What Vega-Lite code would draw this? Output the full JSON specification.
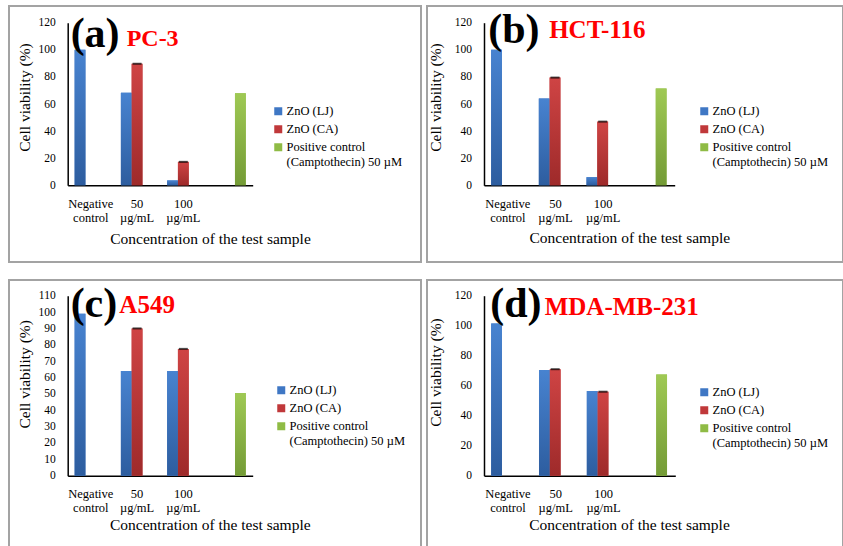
{
  "$schema": "https://vega.github.io/schema/vega-lite/v6.json",
  "padding": {"left": 8, "top": 5, "right": 0, "bottom": 0},
  "config": {
    "view": {"stroke": "#a3a3a3", "strokeWidth": 2},
    "font": "Liberation Serif",
    "axis": {"grid": false, "ticks": false, "tickSize": 0, "domainColor": "#000000", "domainWidth": 1.5, "labelFont": "Liberation Serif", "labelColor": "#000000", "labelOverlap": false, "titleFont": "Liberation Serif", "titleColor": "#000000", "titleFontWeight": "normal", "titleFontSize": 15.5},
    "axisY": {"labelOverlap": false, "labelFontSize": 11.5, "labelPadding": 12.5},
    "legend": {"labelFont": "Liberation Serif", "labelColor": "#000000", "labelFontSize": 12.5, "orient": "none", "title": null, "padding": 0, "symbolType": "square", "symbolSize": 64, "symbolStrokeWidth": 0, "rowPadding": 5, "labelOffset": 2, "labelLimit": 300}
  },
  "resolve": {"scale": {"color": "independent"}, "legend": {"color": "independent"}},
  "datasets": {
    "bars": [
      {"panel": "a", "conc": "Negative control", "series": "ZnO (LJ)", "value": 100},
      {"panel": "a", "conc": "50 µg/mL", "series": "ZnO (LJ)", "value": 68.3},
      {"panel": "a", "conc": "50 µg/mL", "series": "ZnO (CA)", "value": 89.7},
      {"panel": "a", "conc": "100 µg/mL", "series": "ZnO (LJ)", "value": 3.6},
      {"panel": "a", "conc": "100 µg/mL", "series": "ZnO (CA)", "value": 17.3},
      {"panel": "a", "conc": "Positive control", "series": "Positive control (Camptothecin) 50 µM", "value": 68},
      {"panel": "b", "conc": "Negative control", "series": "ZnO (LJ)", "value": 100},
      {"panel": "b", "conc": "50 µg/mL", "series": "ZnO (LJ)", "value": 64},
      {"panel": "b", "conc": "50 µg/mL", "series": "ZnO (CA)", "value": 79.5},
      {"panel": "b", "conc": "100 µg/mL", "series": "ZnO (LJ)", "value": 6},
      {"panel": "b", "conc": "100 µg/mL", "series": "ZnO (CA)", "value": 47},
      {"panel": "b", "conc": "Positive control", "series": "Positive control (Camptothecin) 50 µM", "value": 71.5},
      {"panel": "c", "conc": "Negative control", "series": "ZnO (LJ)", "value": 99},
      {"panel": "c", "conc": "50 µg/mL", "series": "ZnO (LJ)", "value": 64},
      {"panel": "c", "conc": "50 µg/mL", "series": "ZnO (CA)", "value": 90},
      {"panel": "c", "conc": "100 µg/mL", "series": "ZnO (LJ)", "value": 64},
      {"panel": "c", "conc": "100 µg/mL", "series": "ZnO (CA)", "value": 77.5},
      {"panel": "c", "conc": "Positive control", "series": "Positive control (Camptothecin) 50 µM", "value": 50.5},
      {"panel": "d", "conc": "Negative control", "series": "ZnO (LJ)", "value": 101.5},
      {"panel": "d", "conc": "50 µg/mL", "series": "ZnO (LJ)", "value": 70.5},
      {"panel": "d", "conc": "50 µg/mL", "series": "ZnO (CA)", "value": 71},
      {"panel": "d", "conc": "100 µg/mL", "series": "ZnO (LJ)", "value": 56.5},
      {"panel": "d", "conc": "100 µg/mL", "series": "ZnO (CA)", "value": 56},
      {"panel": "d", "conc": "Positive control", "series": "Positive control (Camptothecin) 50 µM", "value": 67.5}
    ],
    "tags": [
      {"panel": "a", "tag": "(a)", "name": "PC-3"},
      {"panel": "b", "tag": "(b)", "name": "HCT-116"},
      {"panel": "c", "tag": "(c)", "name": "A549"},
      {"panel": "d", "tag": "(d)", "name": "MDA-MB-231"}
    ]
  },
  "vconcat": [
    {"resolve": {"scale": {"color": "independent"}, "legend": {"color": "independent"}},
     "hconcat": [
      {
        "width": 412, "height": 256,
        "layer": [
          {"data": {"name": "bars"}, "transform": [{"filter": "datum.panel === 'a'"}],
           "mark": {"type": "bar"},
           "encoding": {
             "x": {"field": "conc", "type": "nominal", "sort": ["Negative control", "50 µg/mL", "100 µg/mL", "Positive control"],
                   "scale": {"domain": ["Negative control", "50 µg/mL", "100 µg/mL", "Positive control"], "range": [58.7, 243.7], "paddingInner": 0.3, "paddingOuter": 0.15},
                   "axis": {"title": "Concentration of the test sample", "orient": "bottom", "offset": -76.7, "labelAngle": 0, "labelPadding": 12, "labelBaseline": "top", "labelLineHeight": 14, "labelFontSize": 12.5, "labelExpr": "datum.value === 'Negative control' ? ['Negative', 'control'] : datum.value === '50 µg/mL' ? ['50', 'µg/mL'] : datum.value === '100 µg/mL' ? ['100', 'µg/mL'] : ''", "titleX": 201, "titleY": 57.7, "titleAlign": "center", "titleBaseline": "alphabetic"}},
             "xOffset": {"field": "series", "type": "nominal", "scale": {"domain": ["ZnO (LJ)", "ZnO (CA)", "Positive control (Camptothecin) 50 µM"], "paddingInner": 0, "paddingOuter": 0}},
             "y": {"field": "value", "type": "quantitative", "scale": {"domain": [0, 120], "range": [179.3, 16.7], "nice": false},
                   "axis": {"title": "Cell viability (%)", "orient": "left", "offset": -58.7, "values": [0, 20, 40, 60, 80, 100, 120], "titleX": -34.7, "titleY": 91, "titleAlign": "center", "titleBaseline": "bottom"}},
             "color": {"field": "series", "type": "nominal", "scale": {"domain": ["ZnO (LJ)", "ZnO (CA)", "Positive control (Camptothecin) 50 µM"], "range": ["#3f77c4", "#c0383a", "#8fbb45"]},
                       "legend": {"orient": "none", "legendX": 263, "legendY": 99, "labelExpr": "datum.label === 'Positive control (Camptothecin) 50 µM' ? ['Positive control', '(Camptothecin) 50 µM'] : datum.label"}}
           }},
          {"data": {"name": "bars"}, "transform": [{"filter": "datum.panel === 'a' && datum.series === 'ZnO (LJ)'"}],
           "mark": {"type": "bar", "color": {"gradient": "linear", "x1": 0, "y1": 0, "x2": 0, "y2": 1, "stops": [{"offset": 0, "color": "#4883d0"}, {"offset": 1, "color": "#2d5d9f"}]}},
           "encoding": {"x": {"field": "conc", "type": "nominal"}, "xOffset": {"field": "series", "type": "nominal"}, "y": {"field": "value", "type": "quantitative", "axis": {"title": "Cell viability (%)", "orient": "left", "offset": -58.7, "values": [0, 20, 40, 60, 80, 100, 120], "titleX": -34.7, "titleY": 91, "titleAlign": "center", "titleBaseline": "bottom"}}}},
          {"data": {"name": "bars"}, "transform": [{"filter": "datum.panel === 'a' && datum.series === 'ZnO (CA)'"}],
           "mark": {"type": "bar", "color": {"gradient": "linear", "x1": 0, "y1": 0, "x2": 0, "y2": 1, "stops": [{"offset": 0, "color": "#cf4444"}, {"offset": 1, "color": "#9e2a2a"}]}},
           "encoding": {"x": {"field": "conc", "type": "nominal"}, "xOffset": {"field": "series", "type": "nominal"}, "y": {"field": "value", "type": "quantitative", "axis": {"title": "Cell viability (%)", "orient": "left", "offset": -58.7, "values": [0, 20, 40, 60, 80, 100, 120], "titleX": -34.7, "titleY": 91, "titleAlign": "center", "titleBaseline": "bottom"}}}},
          {"data": {"name": "bars"}, "transform": [{"filter": "datum.panel === 'a' && datum.series === 'Positive control (Camptothecin) 50 µM'"}],
           "mark": {"type": "bar", "color": {"gradient": "linear", "x1": 0, "y1": 0, "x2": 0, "y2": 1, "stops": [{"offset": 0, "color": "#9fc954"}, {"offset": 1, "color": "#749b36"}]}},
           "encoding": {"x": {"field": "conc", "type": "nominal"}, "xOffset": {"field": "series", "type": "nominal"}, "y": {"field": "value", "type": "quantitative", "axis": {"title": "Cell viability (%)", "orient": "left", "offset": -58.7, "values": [0, 20, 40, 60, 80, 100, 120], "titleX": -34.7, "titleY": 91, "titleAlign": "center", "titleBaseline": "bottom"}}}},
          {"data": {"name": "bars"}, "transform": [{"filter": "datum.panel === 'a' && datum.series === 'ZnO (CA)'"}],
           "mark": {"type": "tick", "color": "#000000", "thickness": 2, "size": 9},
           "encoding": {"x": {"field": "conc", "type": "nominal"}, "xOffset": {"field": "series", "type": "nominal"}, "y": {"field": "value", "type": "quantitative", "axis": {"title": "Cell viability (%)", "orient": "left", "offset": -58.7, "values": [0, 20, 40, 60, 80, 100, 120], "titleX": -34.7, "titleY": 91, "titleAlign": "center", "titleBaseline": "bottom"}}}},
          {"data": {"name": "tags"}, "transform": [{"filter": "datum.panel === 'a'"}],
           "mark": {"type": "text", "font": "Liberation Serif", "fontWeight": "bold", "fontSize": 42, "align": "left", "baseline": "alphabetic", "dx": -4, "color": "#000000"},
           "encoding": {"x": {"datum": "Negative control", "bandPosition": 0}, "y": {"datum": 102.3, "type": "quantitative", "axis": {"title": "Cell viability (%)", "orient": "left", "offset": -58.7, "values": [0, 20, 40, 60, 80, 100, 120], "titleX": -34.7, "titleY": 91, "titleAlign": "center", "titleBaseline": "bottom"}}, "text": {"field": "tag"}}},
          {"data": {"name": "tags"}, "transform": [{"filter": "datum.panel === 'a'"}],
           "mark": {"type": "text", "font": "Liberation Serif", "fontWeight": "bold", "fontSize": 24, "align": "left", "baseline": "alphabetic", "dx": 52, "color": "#ff0000"},
           "encoding": {"x": {"datum": "Negative control", "bandPosition": 0}, "y": {"datum": 102.8, "type": "quantitative", "axis": {"title": "Cell viability (%)", "orient": "left", "offset": -58.7, "values": [0, 20, 40, 60, 80, 100, 120], "titleX": -34.7, "titleY": 91, "titleAlign": "center", "titleBaseline": "bottom"}}, "text": {"field": "name"}}}
        ]
      },
      {
        "width": 416, "height": 256,
        "layer": [
          {"data": {"name": "bars"}, "transform": [{"filter": "datum.panel === 'b'"}],
           "mark": {"type": "bar"},
           "encoding": {
             "x": {"field": "conc", "type": "nominal", "sort": ["Negative control", "50 µg/mL", "100 µg/mL", "Positive control"],
                   "scale": {"domain": ["Negative control", "50 µg/mL", "100 µg/mL", "Positive control"], "range": [57, 247.7], "paddingInner": 0.3, "paddingOuter": 0.15},
                   "axis": {"title": "Concentration of the test sample", "orient": "bottom", "offset": -76.7, "labelAngle": 0, "labelPadding": 12, "labelBaseline": "top", "labelLineHeight": 14, "labelFontSize": 12.5, "labelExpr": "datum.value === 'Negative control' ? ['Negative', 'control'] : datum.value === '50 µg/mL' ? ['50', 'µg/mL'] : datum.value === '100 µg/mL' ? ['100', 'µg/mL'] : ''", "titleX": 202.3, "titleY": 57.4, "titleAlign": "center", "titleBaseline": "alphabetic"}},
             "xOffset": {"field": "series", "type": "nominal", "scale": {"domain": ["ZnO (LJ)", "ZnO (CA)", "Positive control (Camptothecin) 50 µM"], "paddingInner": 0, "paddingOuter": 0}},
             "y": {"field": "value", "type": "quantitative", "scale": {"domain": [0, 120], "range": [179.3, 16.7], "nice": false},
                   "axis": {"title": "Cell viability (%)", "orient": "left", "offset": -57, "values": [0, 20, 40, 60, 80, 100, 120], "titleX": -41, "titleY": 91, "titleAlign": "center", "titleBaseline": "bottom"}},
             "color": {"field": "series", "type": "nominal", "scale": {"domain": ["ZnO (LJ)", "ZnO (CA)", "Positive control (Camptothecin) 50 µM"], "range": ["#3f77c4", "#c0383a", "#8fbb45"]},
                       "legend": {"orient": "none", "legendX": 271, "legendY": 99, "labelExpr": "datum.label === 'Positive control (Camptothecin) 50 µM' ? ['Positive control', '(Camptothecin) 50 µM'] : datum.label"}}
           }},
          {"data": {"name": "bars"}, "transform": [{"filter": "datum.panel === 'b' && datum.series === 'ZnO (LJ)'"}],
           "mark": {"type": "bar", "color": {"gradient": "linear", "x1": 0, "y1": 0, "x2": 0, "y2": 1, "stops": [{"offset": 0, "color": "#4883d0"}, {"offset": 1, "color": "#2d5d9f"}]}},
           "encoding": {"x": {"field": "conc", "type": "nominal"}, "xOffset": {"field": "series", "type": "nominal"}, "y": {"field": "value", "type": "quantitative", "axis": {"title": "Cell viability (%)", "orient": "left", "offset": -57, "values": [0, 20, 40, 60, 80, 100, 120], "titleX": -41, "titleY": 91, "titleAlign": "center", "titleBaseline": "bottom"}}}},
          {"data": {"name": "bars"}, "transform": [{"filter": "datum.panel === 'b' && datum.series === 'ZnO (CA)'"}],
           "mark": {"type": "bar", "color": {"gradient": "linear", "x1": 0, "y1": 0, "x2": 0, "y2": 1, "stops": [{"offset": 0, "color": "#cf4444"}, {"offset": 1, "color": "#9e2a2a"}]}},
           "encoding": {"x": {"field": "conc", "type": "nominal"}, "xOffset": {"field": "series", "type": "nominal"}, "y": {"field": "value", "type": "quantitative", "axis": {"title": "Cell viability (%)", "orient": "left", "offset": -57, "values": [0, 20, 40, 60, 80, 100, 120], "titleX": -41, "titleY": 91, "titleAlign": "center", "titleBaseline": "bottom"}}}},
          {"data": {"name": "bars"}, "transform": [{"filter": "datum.panel === 'b' && datum.series === 'Positive control (Camptothecin) 50 µM'"}],
           "mark": {"type": "bar", "color": {"gradient": "linear", "x1": 0, "y1": 0, "x2": 0, "y2": 1, "stops": [{"offset": 0, "color": "#9fc954"}, {"offset": 1, "color": "#749b36"}]}},
           "encoding": {"x": {"field": "conc", "type": "nominal"}, "xOffset": {"field": "series", "type": "nominal"}, "y": {"field": "value", "type": "quantitative", "axis": {"title": "Cell viability (%)", "orient": "left", "offset": -57, "values": [0, 20, 40, 60, 80, 100, 120], "titleX": -41, "titleY": 91, "titleAlign": "center", "titleBaseline": "bottom"}}}},
          {"data": {"name": "bars"}, "transform": [{"filter": "datum.panel === 'b' && datum.series === 'ZnO (CA)'"}],
           "mark": {"type": "tick", "color": "#000000", "thickness": 2, "size": 9},
           "encoding": {"x": {"field": "conc", "type": "nominal"}, "xOffset": {"field": "series", "type": "nominal"}, "y": {"field": "value", "type": "quantitative", "axis": {"title": "Cell viability (%)", "orient": "left", "offset": -57, "values": [0, 20, 40, 60, 80, 100, 120], "titleX": -41, "titleY": 91, "titleAlign": "center", "titleBaseline": "bottom"}}}},
          {"data": {"name": "tags"}, "transform": [{"filter": "datum.panel === 'b'"}],
           "mark": {"type": "text", "font": "Liberation Serif", "fontWeight": "bold", "fontSize": 42, "align": "left", "baseline": "alphabetic", "dx": -3, "color": "#000000"},
           "encoding": {"x": {"datum": "Negative control", "bandPosition": 0}, "y": {"datum": 104.7, "type": "quantitative", "axis": {"title": "Cell viability (%)", "orient": "left", "offset": -57, "values": [0, 20, 40, 60, 80, 100, 120], "titleX": -41, "titleY": 91, "titleAlign": "center", "titleBaseline": "bottom"}}, "text": {"field": "tag"}}},
          {"data": {"name": "tags"}, "transform": [{"filter": "datum.panel === 'b'"}],
           "mark": {"type": "text", "font": "Liberation Serif", "fontWeight": "bold", "fontSize": 25, "align": "left", "baseline": "alphabetic", "dx": 58, "color": "#ff0000"},
           "encoding": {"x": {"datum": "Negative control", "bandPosition": 0}, "y": {"datum": 108.9, "type": "quantitative", "axis": {"title": "Cell viability (%)", "orient": "left", "offset": -57, "values": [0, 20, 40, 60, 80, 100, 120], "titleX": -41, "titleY": 91, "titleAlign": "center", "titleBaseline": "bottom"}}, "text": {"field": "name"}}}
        ]
      }
    ], "spacing": 4},
    {"resolve": {"scale": {"color": "independent"}, "legend": {"color": "independent"}},
     "hconcat": [
      {
        "width": 412, "height": 285,
        "layer": [
          {"data": {"name": "bars"}, "transform": [{"filter": "datum.panel === 'c'"}],
           "mark": {"type": "bar"},
           "encoding": {
             "x": {"field": "conc", "type": "nominal", "sort": ["Negative control", "50 µg/mL", "100 µg/mL", "Positive control"],
                   "scale": {"domain": ["Negative control", "50 µg/mL", "100 µg/mL", "Positive control"], "range": [58.7, 243.7], "paddingInner": 0.3, "paddingOuter": 0.15},
                   "axis": {"title": "Concentration of the test sample", "orient": "bottom", "offset": -89.3, "labelAngle": 0, "labelPadding": 12, "labelBaseline": "top", "labelLineHeight": 14, "labelFontSize": 12.5, "labelExpr": "datum.value === 'Negative control' ? ['Negative', 'control'] : datum.value === '50 µg/mL' ? ['50', 'µg/mL'] : datum.value === '100 µg/mL' ? ['100', 'µg/mL'] : ''", "titleX": 200.8, "titleY": 54, "titleAlign": "center", "titleBaseline": "alphabetic"}},
             "xOffset": {"field": "series", "type": "nominal", "scale": {"domain": ["ZnO (LJ)", "ZnO (CA)", "Positive control (Camptothecin) 50 µM"], "paddingInner": 0, "paddingOuter": 0}},
             "y": {"field": "value", "type": "quantitative", "scale": {"domain": [0, 110], "range": [195.7, 15.7], "nice": false},
                   "axis": {"title": "Cell viability (%)", "orient": "left", "offset": -58.7, "values": [0, 10, 20, 30, 40, 50, 60, 70, 80, 90, 100, 110], "titleX": -34.7, "titleY": 93.8, "titleAlign": "center", "titleBaseline": "bottom"}},
             "color": {"field": "series", "type": "nominal", "scale": {"domain": ["ZnO (LJ)", "ZnO (CA)", "Positive control (Camptothecin) 50 µM"], "range": ["#3f77c4", "#c0383a", "#8fbb45"]},
                       "legend": {"orient": "none", "legendX": 266, "legendY": 104, "labelExpr": "datum.label === 'Positive control (Camptothecin) 50 µM' ? ['Positive control', '(Camptothecin) 50 µM'] : datum.label"}}
           }},
          {"data": {"name": "bars"}, "transform": [{"filter": "datum.panel === 'c' && datum.series === 'ZnO (LJ)'"}],
           "mark": {"type": "bar", "color": {"gradient": "linear", "x1": 0, "y1": 0, "x2": 0, "y2": 1, "stops": [{"offset": 0, "color": "#4883d0"}, {"offset": 1, "color": "#2d5d9f"}]}},
           "encoding": {"x": {"field": "conc", "type": "nominal"}, "xOffset": {"field": "series", "type": "nominal"}, "y": {"field": "value", "type": "quantitative", "axis": {"title": "Cell viability (%)", "orient": "left", "offset": -58.7, "values": [0, 10, 20, 30, 40, 50, 60, 70, 80, 90, 100, 110], "titleX": -34.7, "titleY": 93.8, "titleAlign": "center", "titleBaseline": "bottom"}}}},
          {"data": {"name": "bars"}, "transform": [{"filter": "datum.panel === 'c' && datum.series === 'ZnO (CA)'"}],
           "mark": {"type": "bar", "color": {"gradient": "linear", "x1": 0, "y1": 0, "x2": 0, "y2": 1, "stops": [{"offset": 0, "color": "#cf4444"}, {"offset": 1, "color": "#9e2a2a"}]}},
           "encoding": {"x": {"field": "conc", "type": "nominal"}, "xOffset": {"field": "series", "type": "nominal"}, "y": {"field": "value", "type": "quantitative", "axis": {"title": "Cell viability (%)", "orient": "left", "offset": -58.7, "values": [0, 10, 20, 30, 40, 50, 60, 70, 80, 90, 100, 110], "titleX": -34.7, "titleY": 93.8, "titleAlign": "center", "titleBaseline": "bottom"}}}},
          {"data": {"name": "bars"}, "transform": [{"filter": "datum.panel === 'c' && datum.series === 'Positive control (Camptothecin) 50 µM'"}],
           "mark": {"type": "bar", "color": {"gradient": "linear", "x1": 0, "y1": 0, "x2": 0, "y2": 1, "stops": [{"offset": 0, "color": "#9fc954"}, {"offset": 1, "color": "#749b36"}]}},
           "encoding": {"x": {"field": "conc", "type": "nominal"}, "xOffset": {"field": "series", "type": "nominal"}, "y": {"field": "value", "type": "quantitative", "axis": {"title": "Cell viability (%)", "orient": "left", "offset": -58.7, "values": [0, 10, 20, 30, 40, 50, 60, 70, 80, 90, 100, 110], "titleX": -34.7, "titleY": 93.8, "titleAlign": "center", "titleBaseline": "bottom"}}}},
          {"data": {"name": "bars"}, "transform": [{"filter": "datum.panel === 'c' && datum.series === 'ZnO (CA)'"}],
           "mark": {"type": "tick", "color": "#000000", "thickness": 2, "size": 9},
           "encoding": {"x": {"field": "conc", "type": "nominal"}, "xOffset": {"field": "series", "type": "nominal"}, "y": {"field": "value", "type": "quantitative", "axis": {"title": "Cell viability (%)", "orient": "left", "offset": -58.7, "values": [0, 10, 20, 30, 40, 50, 60, 70, 80, 90, 100, 110], "titleX": -34.7, "titleY": 93.8, "titleAlign": "center", "titleBaseline": "bottom"}}}},
          {"data": {"name": "tags"}, "transform": [{"filter": "datum.panel === 'c'"}],
           "mark": {"type": "text", "font": "Liberation Serif", "fontWeight": "bold", "fontSize": 42, "align": "left", "baseline": "alphabetic", "dx": -4, "color": "#000000"},
           "encoding": {"x": {"datum": "Negative control", "bandPosition": 0}, "y": {"datum": 97, "type": "quantitative", "axis": {"title": "Cell viability (%)", "orient": "left", "offset": -58.7, "values": [0, 10, 20, 30, 40, 50, 60, 70, 80, 90, 100, 110], "titleX": -34.7, "titleY": 93.8, "titleAlign": "center", "titleBaseline": "bottom"}}, "text": {"field": "tag"}}},
          {"data": {"name": "tags"}, "transform": [{"filter": "datum.panel === 'c'"}],
           "mark": {"type": "text", "font": "Liberation Serif", "fontWeight": "bold", "fontSize": 25, "align": "left", "baseline": "alphabetic", "dx": 44.7, "color": "#ff0000"},
           "encoding": {"x": {"datum": "Negative control", "bandPosition": 0}, "y": {"datum": 99.4, "type": "quantitative", "axis": {"title": "Cell viability (%)", "orient": "left", "offset": -58.7, "values": [0, 10, 20, 30, 40, 50, 60, 70, 80, 90, 100, 110], "titleX": -34.7, "titleY": 93.8, "titleAlign": "center", "titleBaseline": "bottom"}}, "text": {"field": "name"}}}
        ]
      },
      {
        "width": 416, "height": 285,
        "layer": [
          {"data": {"name": "bars"}, "transform": [{"filter": "datum.panel === 'd'"}],
           "mark": {"type": "bar"},
           "encoding": {
             "x": {"field": "conc", "type": "nominal", "sort": ["Negative control", "50 µg/mL", "100 µg/mL", "Positive control"],
                   "scale": {"domain": ["Negative control", "50 µg/mL", "100 µg/mL", "Positive control"], "range": [57, 248.3], "paddingInner": 0.3, "paddingOuter": 0.15},
                   "axis": {"title": "Concentration of the test sample", "orient": "bottom", "offset": -89.3, "labelAngle": 0, "labelPadding": 12, "labelBaseline": "top", "labelLineHeight": 14, "labelFontSize": 12.5, "labelExpr": "datum.value === 'Negative control' ? ['Negative', 'control'] : datum.value === '50 µg/mL' ? ['50', 'µg/mL'] : datum.value === '100 µg/mL' ? ['100', 'µg/mL'] : ''", "titleX": 202, "titleY": 54, "titleAlign": "center", "titleBaseline": "alphabetic"}},
             "xOffset": {"field": "series", "type": "nominal", "scale": {"domain": ["ZnO (LJ)", "ZnO (CA)", "Positive control (Camptothecin) 50 µM"], "paddingInner": 0, "paddingOuter": 0}},
             "y": {"field": "value", "type": "quantitative", "scale": {"domain": [0, 120], "range": [195.7, 15.7], "nice": false},
                   "axis": {"title": "Cell viability (%)", "orient": "left", "offset": -57, "values": [0, 20, 40, 60, 80, 100, 120], "titleX": -41, "titleY": 92, "titleAlign": "center", "titleBaseline": "bottom"}},
             "color": {"field": "series", "type": "nominal", "scale": {"domain": ["ZnO (LJ)", "ZnO (CA)", "Positive control (Camptothecin) 50 µM"], "range": ["#3f77c4", "#c0383a", "#8fbb45"]},
                       "legend": {"orient": "none", "legendX": 271, "legendY": 106, "labelExpr": "datum.label === 'Positive control (Camptothecin) 50 µM' ? ['Positive control', '(Camptothecin) 50 µM'] : datum.label"}}
           }},
          {"data": {"name": "bars"}, "transform": [{"filter": "datum.panel === 'd' && datum.series === 'ZnO (LJ)'"}],
           "mark": {"type": "bar", "color": {"gradient": "linear", "x1": 0, "y1": 0, "x2": 0, "y2": 1, "stops": [{"offset": 0, "color": "#4883d0"}, {"offset": 1, "color": "#2d5d9f"}]}},
           "encoding": {"x": {"field": "conc", "type": "nominal"}, "xOffset": {"field": "series", "type": "nominal"}, "y": {"field": "value", "type": "quantitative", "axis": {"title": "Cell viability (%)", "orient": "left", "offset": -57, "values": [0, 20, 40, 60, 80, 100, 120], "titleX": -41, "titleY": 92, "titleAlign": "center", "titleBaseline": "bottom"}}}},
          {"data": {"name": "bars"}, "transform": [{"filter": "datum.panel === 'd' && datum.series === 'ZnO (CA)'"}],
           "mark": {"type": "bar", "color": {"gradient": "linear", "x1": 0, "y1": 0, "x2": 0, "y2": 1, "stops": [{"offset": 0, "color": "#cf4444"}, {"offset": 1, "color": "#9e2a2a"}]}},
           "encoding": {"x": {"field": "conc", "type": "nominal"}, "xOffset": {"field": "series", "type": "nominal"}, "y": {"field": "value", "type": "quantitative", "axis": {"title": "Cell viability (%)", "orient": "left", "offset": -57, "values": [0, 20, 40, 60, 80, 100, 120], "titleX": -41, "titleY": 92, "titleAlign": "center", "titleBaseline": "bottom"}}}},
          {"data": {"name": "bars"}, "transform": [{"filter": "datum.panel === 'd' && datum.series === 'Positive control (Camptothecin) 50 µM'"}],
           "mark": {"type": "bar", "color": {"gradient": "linear", "x1": 0, "y1": 0, "x2": 0, "y2": 1, "stops": [{"offset": 0, "color": "#9fc954"}, {"offset": 1, "color": "#749b36"}]}},
           "encoding": {"x": {"field": "conc", "type": "nominal"}, "xOffset": {"field": "series", "type": "nominal"}, "y": {"field": "value", "type": "quantitative", "axis": {"title": "Cell viability (%)", "orient": "left", "offset": -57, "values": [0, 20, 40, 60, 80, 100, 120], "titleX": -41, "titleY": 92, "titleAlign": "center", "titleBaseline": "bottom"}}}},
          {"data": {"name": "bars"}, "transform": [{"filter": "datum.panel === 'd' && datum.series === 'ZnO (CA)'"}],
           "mark": {"type": "tick", "color": "#000000", "thickness": 2, "size": 9},
           "encoding": {"x": {"field": "conc", "type": "nominal"}, "xOffset": {"field": "series", "type": "nominal"}, "y": {"field": "value", "type": "quantitative", "axis": {"title": "Cell viability (%)", "orient": "left", "offset": -57, "values": [0, 20, 40, 60, 80, 100, 120], "titleX": -41, "titleY": 92, "titleAlign": "center", "titleBaseline": "bottom"}}}},
          {"data": {"name": "tags"}, "transform": [{"filter": "datum.panel === 'd'"}],
           "mark": {"type": "text", "font": "Liberation Serif", "fontWeight": "bold", "fontSize": 42, "align": "left", "baseline": "alphabetic", "dx": -1, "color": "#000000"},
           "encoding": {"x": {"datum": "Negative control", "bandPosition": 0}, "y": {"datum": 105.8, "type": "quantitative", "axis": {"title": "Cell viability (%)", "orient": "left", "offset": -57, "values": [0, 20, 40, 60, 80, 100, 120], "titleX": -41, "titleY": 92, "titleAlign": "center", "titleBaseline": "bottom"}}, "text": {"field": "tag"}}},
          {"data": {"name": "tags"}, "transform": [{"filter": "datum.panel === 'd'"}],
           "mark": {"type": "text", "font": "Liberation Serif", "fontWeight": "bold", "fontSize": 25, "align": "left", "baseline": "alphabetic", "dx": 53.5, "color": "#ff0000"},
           "encoding": {"x": {"datum": "Negative control", "bandPosition": 0}, "y": {"datum": 107.3, "type": "quantitative", "axis": {"title": "Cell viability (%)", "orient": "left", "offset": -57, "values": [0, 20, 40, 60, 80, 100, 120], "titleX": -41, "titleY": 92, "titleAlign": "center", "titleBaseline": "bottom"}}, "text": {"field": "name"}}}
        ]
      }
    ], "spacing": 4}
  ],
  "spacing": 16
}
